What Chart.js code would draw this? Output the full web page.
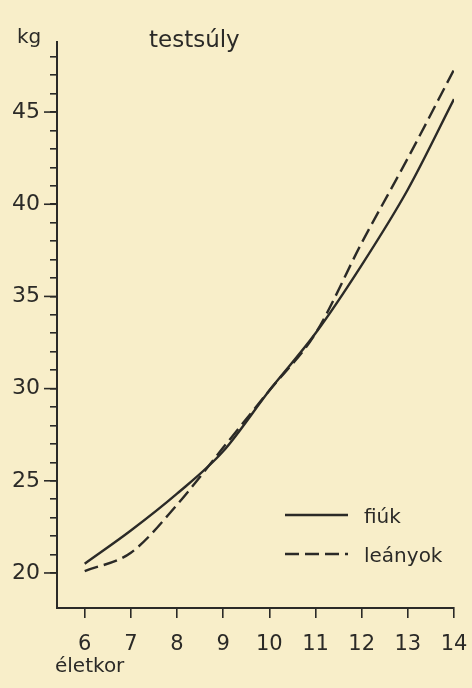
<!DOCTYPE html>
<html>
<head>
<meta charset="utf-8">
<script src="https://cdn.jsdelivr.net/npm/chart.js@4/dist/chart.umd.min.js"></script>
<style>
  html, body { margin: 0; padding: 0; background: #f8eec9; }
  #wrap { width: 472px; height: 688px; position: relative; }
</style>
</head>
<body>
<div id="wrap"><canvas id="chart"></canvas></div>
<script>
// életkor (év) és testsúly (kg)
const ages = [6, 7, 8, 9, 10, 11, 12, 13, 14];
const boys = [20.5, 22.3, 24.3, 26.6, 29.9, 33.0, 36.7, 40.8, 45.7];
const girls = [20.1, 21.1, 23.7, 26.8, 29.9, 33.0, 37.9, 42.5, 47.3];
const seriesNames = ['fiúk', 'leányok'];

const kgTicks = [20, 21, 22, 23, 24, 25, 26, 27, 28, 29, 30, 31, 32, 33, 34, 35, 36, 37, 38, 39, 40, 41, 42, 43, 44, 45, 46, 47, 48];
const kgLabels = [20, 25, 30, 35, 40, 45];

const ink = '#2b2a27';
const font = "'DejaVu Sans', sans-serif";

// longer marks at labelled kg values, captions and the legend
const sheetDecor = {
  id: 'sheetDecor',
  afterDraw(chart) {
    const { ctx, chartArea, scales: { y } } = chart;
    ctx.save();
    ctx.strokeStyle = ink;
    ctx.lineWidth = 1.6;
    kgLabels.forEach(v => {
      const py = y.getPixelForValue(v);
      ctx.beginPath();
      ctx.moveTo(chartArea.left - 13, py);
      ctx.lineTo(chartArea.left, py);
      ctx.stroke();
    });

    ctx.fillStyle = ink;
    ctx.textBaseline = 'alphabetic';
    ctx.font = '20px ' + font;
    ctx.fillText('kg', 17, 43);
    ctx.fillText('életkor', 55, 672);
    ctx.font = '23px ' + font;
    ctx.fillText('testsúly', 149, 47);

    ctx.font = '20px ' + font;
    const rows = [515, 554];
    chart.data.datasets.forEach((ds, i) => {
      ctx.lineWidth = ds.borderWidth;
      ctx.setLineDash(ds.borderDash || []);
      ctx.beginPath();
      ctx.moveTo(285, rows[i]);
      ctx.lineTo(348, rows[i]);
      ctx.stroke();
      ctx.setLineDash([]);
      ctx.fillText(ds.label, 364, rows[i] + 8);
    });
    ctx.restore();
  }
};

new Chart(document.getElementById('chart'), {
  type: 'line',
  data: {
    datasets: [
      {
        label: seriesNames[0],
        data: ages.map((a, i) => ({ x: a, y: boys[i] })),
        borderColor: ink,
        borderWidth: 2.4,
        pointRadius: 0,
        cubicInterpolationMode: 'monotone'
      },
      {
        label: seriesNames[1],
        data: ages.map((a, i) => ({ x: a, y: girls[i] })),
        borderColor: ink,
        borderWidth: 2.4,
        borderDash: [14, 6],
        pointRadius: 0,
        cubicInterpolationMode: 'monotone'
      }
    ]
  },
  options: {
    responsive: true,
    maintainAspectRatio: false,
    animation: false,
    layout: { padding: { top: 42, right: 18, left: 0, bottom: 0 } },
    plugins: {
      legend: { display: false },
      tooltip: { enabled: false }
    },
    scales: {
      x: {
        type: 'linear',
        min: 5.4,
        max: 14,
        afterBuildTicks: scale => { scale.ticks = ages.map(v => ({ value: v })); },
        afterFit: scale => {
          scale.height = 80;
          scale.paddingLeft = 0;
          scale.paddingRight = 0;
        },
        border: { display: true, color: ink, width: 2 },
        grid: { drawOnChartArea: false, drawTicks: true, tickLength: 10, color: ink, lineWidth: 1.6 },
        ticks: { color: ink, font: { family: font, size: 21 }, padding: 14, maxRotation: 0, autoSkip: false }
      },
      y: {
        min: 18.1,
        max: 48.8,
        afterBuildTicks: scale => { scale.ticks = kgTicks.map(v => ({ value: v })); },
        afterFit: scale => {
          scale.width = 57;
          scale.paddingTop = 0;
          scale.paddingBottom = 0;
        },
        border: { display: true, color: ink, width: 2 },
        grid: { drawOnChartArea: false, drawTicks: true, tickLength: 7, color: ink, lineWidth: 1.6 },
        ticks: {
          color: ink,
          font: { family: font, size: 22 },
          padding: 10,
          autoSkip: false,
          callback: v => kgLabels.includes(v) ? String(v) : ''
        }
      }
    }
  },
  plugins: [sheetDecor]
});
</script>
</body>
</html>
